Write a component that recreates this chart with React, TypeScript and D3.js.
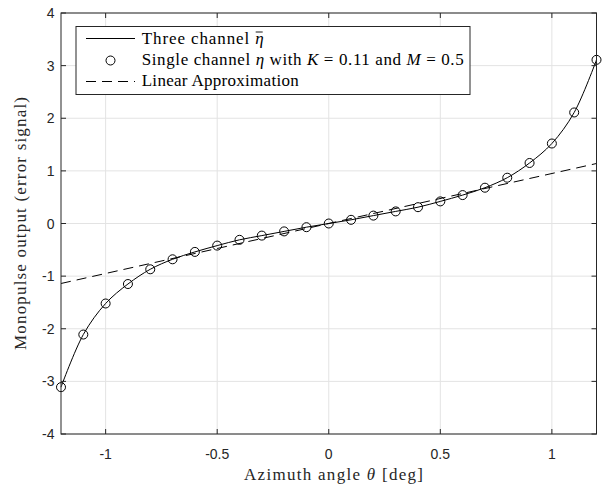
import React from "react";
import * as d3 from "d3";

const thetaDeg = [-1.2, -1.1, -1.0, -0.9, -0.8, -0.7, -0.6, -0.5, -0.4, -0.3, -0.2, -0.1, 0, 0.1, 0.2, 0.3, 0.4, 0.5, 0.6, 0.7, 0.8, 0.9, 1.0, 1.1, 1.2];
const threeChannel = [-3.11, -2.11, -1.52, -1.15, -0.87, -0.68, -0.54, -0.42, -0.31, -0.23, -0.15, -0.07, 0, 0.07, 0.15, 0.23, 0.31, 0.42, 0.54, 0.68, 0.87, 1.15, 1.52, 2.11, 3.11];
const singleChannel = [-3.11, -2.11, -1.52, -1.15, -0.87, -0.68, -0.54, -0.42, -0.31, -0.23, -0.15, -0.07, 0, 0.07, 0.15, 0.23, 0.31, 0.42, 0.54, 0.68, 0.87, 1.15, 1.52, 2.11, 3.11];
const linearX = [-1.2, 1.2];
const linearY = [-1.14, 1.14];
const xTicks = [-1, -0.5, 0, 0.5, 1];
const xTickLabels = ["-1", "-0.5", "0", "0.5", "1"];
const yTicks = [-4, -3, -2, -1, 0, 1, 2, 3, 4];
const yTickLabels = ["-4", "-3", "-2", "-1", "0", "1", "2", "3", "4"];

export default function App() {
  const W = 608, H = 485;
  const left = 61, right = 596.5, top = 13, bottom = 434;
  const x = d3.scaleLinear().domain([-1.2, 1.2]).range([left, right]);
  const y = d3.scaleLinear().domain([-4, 4]).range([bottom, top]);
  const axisColor = "#262626";
  const gridColor = "#e3e3e3";
  const serif = "'Liberation Serif', 'DejaVu Serif', serif";
  const sans = "'Liberation Sans', Arial, sans-serif";

  const curve = d3.line<number>()
    .x((_, i) => x(thetaDeg[i]))
    .y((d) => y(d))
    .curve(d3.curveCatmullRom.alpha(0.5));
  const lin = d3.line<number>()
    .x((_, i) => x(linearX[i]))
    .y((d) => y(d));

  const lgX = 76, lgY = 26.5, lgW = 394, lgH = 68;
  const rows = [38.5, 60.5, 81.5];
  const baselines = [43.5, 65, 85.5];
  const textX = 141.7;
  const row1Len = 122;
  const tick = 5;

  return (
    <svg width={W} height={H} style={{ position: "absolute", left: 0, top: 0, background: "#fff" }}>
      <rect x={0} y={0} width={W} height={H} fill="#fff" />
      {/* grid */}
      {xTicks.map((t) => (
        <line key={"gx" + t} x1={x(t)} x2={x(t)} y1={top} y2={bottom} stroke={gridColor} strokeWidth={1} />
      ))}
      {yTicks.map((t) => (
        <line key={"gy" + t} x1={left} x2={right} y1={y(t)} y2={y(t)} stroke={gridColor} strokeWidth={1} />
      ))}
      {/* data */}
      <path d={lin(linearY) || ""} fill="none" stroke="#000" strokeWidth={1} strokeDasharray="10,6" />
      <path d={curve(threeChannel) || ""} fill="none" stroke="#000" strokeWidth={1} />
      {singleChannel.map((v, i) => (
        <circle key={"c" + i} cx={x(thetaDeg[i])} cy={y(v)} r={4.5} fill="none" stroke="#000" strokeWidth={1} />
      ))}
      {/* axes box */}
      <rect x={left} y={top} width={right - left} height={bottom - top} fill="none" stroke={axisColor} strokeWidth={1} />
      {xTicks.map((t) => (
        <g key={"tx" + t}>
          <line x1={x(t)} x2={x(t)} y1={bottom} y2={bottom - tick} stroke={axisColor} />
          <line x1={x(t)} x2={x(t)} y1={top} y2={top + tick} stroke={axisColor} />
        </g>
      ))}
      {yTicks.map((t) => (
        <g key={"ty" + t}>
          <line x1={left} x2={left + tick} y1={y(t)} y2={y(t)} stroke={axisColor} />
          <line x1={right} x2={right - tick} y1={y(t)} y2={y(t)} stroke={axisColor} />
        </g>
      ))}
      {xTicks.map((t, i) => (
        <text key={"lx" + t} x={x(t)} y={459} textAnchor="middle" fontFamily={sans} fontSize={14} fill={axisColor}>
          {xTickLabels[i]}
        </text>
      ))}
      {yTicks.map((t, i) => (
        <text key={"ly" + t} x={54.5} y={y(t) + 5} textAnchor="end" fontFamily={sans} fontSize={14} fill={axisColor}>
          {yTickLabels[i]}
        </text>
      ))}
      {/* axis labels */}
      <text x={244} y={479.5} textLength={179} lengthAdjust="spacing" fontFamily={serif} fontSize={17} fill={axisColor}>
        Azimuth angle <tspan fontStyle="italic">θ</tspan> [deg]
      </text>
      <text transform={`translate(26,${(top + bottom) / 2}) rotate(-90)`} textAnchor="middle" textLength={253} lengthAdjust="spacing" fontFamily={serif} fontSize={17} fill={axisColor}>
        Monopulse output (error signal)
      </text>
      {/* legend */}
      <rect x={lgX} y={lgY} width={lgW} height={lgH} fill="#fff" stroke={axisColor} strokeWidth={1} />
      <line x1={86} x2={135} y1={rows[0]} y2={rows[0]} stroke="#000" strokeWidth={1} />
      <circle cx={110.5} cy={rows[1]} r={4.5} fill="none" stroke="#000" strokeWidth={1} />
      <line x1={86} x2={135} y1={rows[2]} y2={rows[2]} stroke="#000" strokeWidth={1} strokeDasharray="10,6" />
      <text x={textX} y={baselines[0]} textLength={row1Len} lengthAdjust="spacing" fontFamily={serif} fontSize={17} fill="#000">
        Three channel <tspan fontStyle="italic">η</tspan>
      </text>
      <line x1={textX + row1Len - 8} x2={textX + row1Len - 1} y1={baselines[0] - 11.5} y2={baselines[0] - 11.5} stroke="#000" strokeWidth={0.9} />
      <text x={textX} y={baselines[1]} textLength={322} lengthAdjust="spacing" fontFamily={serif} fontSize={17} fill="#000">
        Single channel <tspan fontStyle="italic">η</tspan> with <tspan fontStyle="italic">K</tspan> = 0.11 and <tspan fontStyle="italic">M</tspan> = 0.5
      </text>
      <text x={textX} y={baselines[2]} textLength={157} lengthAdjust="spacing" fontFamily={serif} fontSize={17} fill="#000">
        Linear Approximation
      </text>
    </svg>
  );
}
